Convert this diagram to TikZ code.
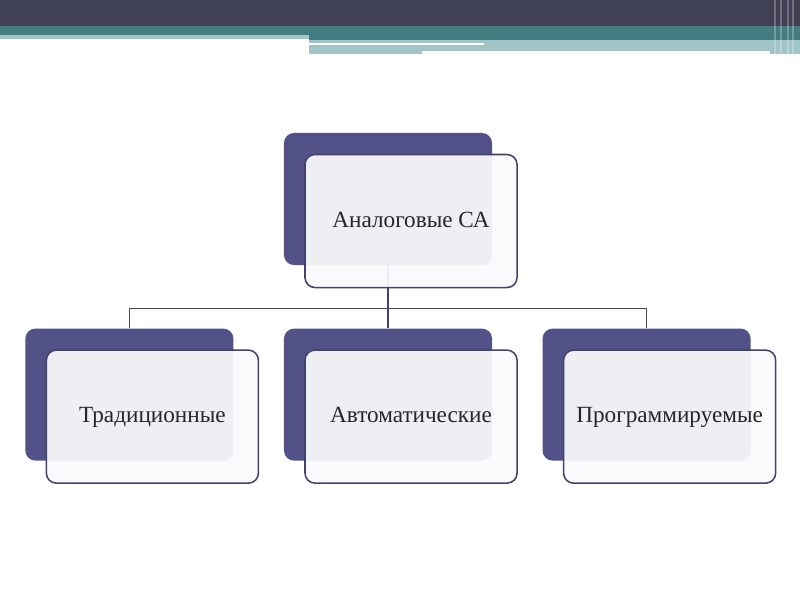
\documentclass[tikz,border=0pt]{standalone}
\usepackage{fontspec}
\setmainfont{Liberation Serif}
\usepackage{xcolor}
\usetikzlibrary{positioning}

\definecolor{headdark}{RGB}{65,65,85}
\definecolor{headteal}{RGB}{68,125,129}
\definecolor{headlight}{RGB}{163,196,199}
\definecolor{backfill}{RGB}{82,82,136}
\definecolor{frontfill}{RGB}{250,250,252}
\definecolor{edgeline}{RGB}{66,66,108}

\begin{document}
\begin{tikzpicture}[
    x=0.025cm, y=-0.025cm,
    node distance=1.575cm and 1.25cm,
    backbox/.style={
        fill=backfill,
        rounded corners=0.25cm,
        minimum width=5.2cm,
        minimum height=3.3cm,
        inner sep=0pt
    },
    frontbox/.style={
        draw=edgeline,
        line width=1.1pt,
        fill=frontfill,
        fill opacity=0.93,
        text opacity=1,
        rounded corners=0.25cm,
        minimum width=5.3cm,
        minimum height=3.325cm,
        text height=1.05em,
        text depth=0.15em,
        align=center,
        font=\fontsize{16.5}{20}\selectfont,
        text=black!85
    },
    conn/.style={draw=edgeline, line width=1.1pt}
]
\useasboundingbox (0,0) rectangle (800,600);

% ---- Header bands ----
\fill[headdark] (0,0) rectangle (800,26);
\fill[headteal] (0,26) rectangle (800,35);
\fill[headlight] (0,35) rectangle (309,39);
\fill[headteal] (309,35) rectangle (800,40);
\fill[headlight] (309,40) rectangle (800,54);
\fill[white] (309,43) rectangle (484,45);
\fill[white] (422,51) rectangle (770,54);
\foreach \xs in {774,780,787,792}
    \fill[white, opacity=0.25] (\xs,0) rectangle ++(2,54);

% ---- Back boxes ----
\node[backbox] (topback) at (388,199) {};
\node[backbox, below=of topback] (midback) {};
\node[backbox, left=of midback] (leftback) {};
\node[backbox, right=of midback] (rightback) {};

% ---- Connections ----
\draw[conn] (topback.south) -- ++(0,43) -| (leftback.north);
\draw[conn] (topback.south) -- ++(0,43) -| (rightback.north);
\draw[conn] (topback.south) -- (midback.north);

% ---- Front boxes ----
\node[frontbox] (top) at ([shift={(23,22)}]topback.center) {Аналоговые СА};
\node[frontbox] (trad) at ([shift={(23,22)}]leftback.center) {Традиционные};
\node[frontbox] (auto) at ([shift={(23,22)}]midback.center) {Автоматические};
\node[frontbox] (prog) at ([shift={(23,22)}]rightback.center) {Программируемые};

\end{tikzpicture}
\end{document}
